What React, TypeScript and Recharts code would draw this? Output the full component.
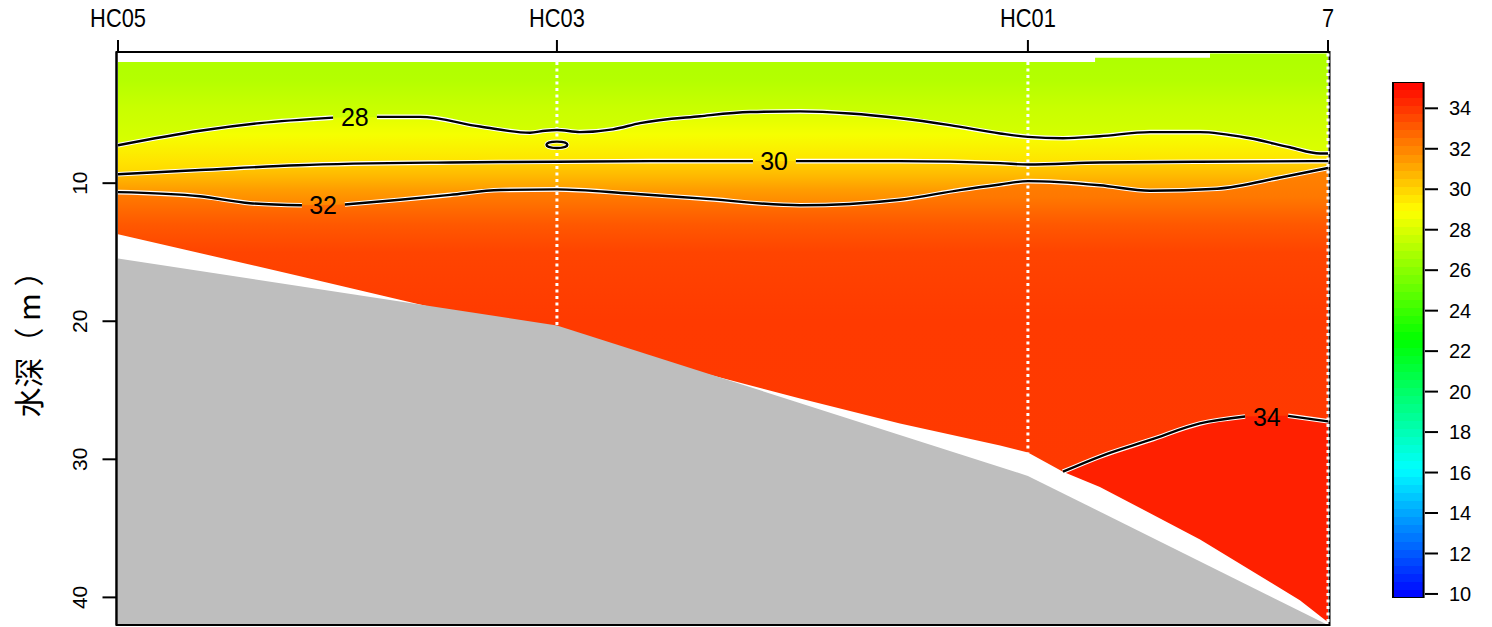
import { Area, Bar, ComposedChart, Line, ReferenceArea, ReferenceLine, Scatter, XAxis, YAxis } from "recharts";

const FONT = '"Liberation Sans", Arial, Helvetica, sans-serif';
const CJK = '"Noto Sans CJK SC", "Noto Sans CJK JP", sans-serif';

// stations along the section (x in km)
const stationNames = ["HC05", "HC03", "HC01", "7"];
const stationKm = [0, 14.51, 30.08, 40];
const stationLineTop = [null, 1.23, 1.23, 0.6];
const stationLineBottom = [null, 20.3, 29.5, 41.9];

const distDomain = [-0.05, 40.05];
const depthTicks = [10, 20, 30, 40];
const depthDomain = [0.5, 42];
const legendTicks = [10, 12, 14, 16, 18, 20, 22, 24, 26, 28, 30, 32, 34];
const legendRange = [9.8, 35.3];

// top of the gridded data (m)
const surface = [
  { x: 0, d: 1.23 },
  { x: 32.3, d: 0.92 },
  { x: 36.1, d: 0.6 },
  { x: 40, d: 0.6 },
];

// isotherm depths (m); null = break for the label
const iso28 = [
  { x: 0, d: 7.25 }, { x: 2.71, d: 6.2 }, { x: 4.69, d: 5.65 }, { x: 7.11, d: 5.25 },
  { x: 7.83, d: null }, { x: 8.56, d: 5.2 }, { x: 9.98, d: 5.2 }, { x: 11.97, d: 5.9 },
  { x: 13.62, d: 6.35 }, { x: 14.12, d: 6.2 }, { x: 14.51, d: 6.15 }, { x: 15.27, d: 6.3 },
  { x: 16.36, d: 6.1 }, { x: 17.26, d: 5.65 }, { x: 19.24, d: 5.15 }, { x: 20.89, d: 4.85 },
  { x: 22.55, d: 4.8 }, { x: 24.2, d: 4.95 }, { x: 25.85, d: 5.3 }, { x: 27.5, d: 5.8 },
  { x: 29.16, d: 6.4 }, { x: 30.08, d: 6.65 }, { x: 31.24, d: 6.75 }, { x: 32.46, d: 6.6 },
  { x: 34.12, d: 6.3 }, { x: 35.77, d: 6.3 }, { x: 37.42, d: 6.75 }, { x: 38.74, d: 7.4 },
  { x: 39.74, d: 7.85 }, { x: 40, d: 7.85 },
];

const iso30 = [
  { x: 0, d: 9.35 }, { x: 2.71, d: 9.05 }, { x: 5.95, d: 8.7 }, { x: 10.98, d: 8.5 },
  { x: 14.51, d: 8.45 }, { x: 17.59, d: 8.4 }, { x: 20.99, d: 8.4 }, { x: 21.69, d: null },
  { x: 22.41, d: 8.4 }, { x: 25.85, d: 8.4 }, { x: 29.16, d: 8.55 }, { x: 30.08, d: 8.65 },
  { x: 32.46, d: 8.5 }, { x: 35.77, d: 8.45 }, { x: 40, d: 8.4 },
];

const iso32 = [
  { x: 0, d: 10.65 }, { x: 2.71, d: 10.95 }, { x: 4.36, d: 11.45 }, { x: 6.08, d: 11.6 },
  { x: 6.78, d: null }, { x: 7.5, d: 11.55 }, { x: 9.32, d: 11.2 }, { x: 10.98, d: 10.85 },
  { x: 12.63, d: 10.5 }, { x: 14.51, d: 10.45 }, { x: 16.93, d: 10.75 }, { x: 19.24, d: 11.1 },
  { x: 22.55, d: 11.6 }, { x: 25.85, d: 11.2 }, { x: 27.83, d: 10.5 }, { x: 29.16, d: 10.1 },
  { x: 30.08, d: 9.85 }, { x: 32.46, d: 10.15 }, { x: 34.12, d: 10.55 }, { x: 36.33, d: 10.4 },
  { x: 38.51, d: 9.55 }, { x: 40, d: 8.9 },
];

const iso34 = [
  { x: 31.24, d: 30.9 }, { x: 32.46, d: 29.8 }, { x: 34.12, d: 28.6 }, { x: 35.77, d: 27.4 },
  { x: 37.26, d: 26.9 }, { x: 37.98, d: null }, { x: 38.68, d: 26.85 }, { x: 40, d: 27.25 },
];

// small closed 28 contour near HC03
const closed28 = [{ x: 14.51, d: 7.22 }];

const contourLabels = [
  { x: 7.83, d: 5.2, label: "28" },
  { x: 21.69, d: 8.4, label: "30" },
  { x: 6.78, d: 11.6, label: "32" },
  { x: 37.98, d: 26.9, label: "34" },
];

// lower edge of the gridded data (m)
const dataBottom = [
  { x: 0, d: 13.7 }, { x: 5.95, d: 16.7 }, { x: 10.58, d: 19.1 }, { x: 14.51, d: 20.5 },
  { x: 19.24, d: 23.7 }, { x: 22.55, d: 25.6 }, { x: 25.85, d: 27.4 }, { x: 29.16, d: 29.0 },
  { x: 30.08, d: 29.5 }, { x: 31.24, d: 30.9 }, { x: 32.46, d: 32.0 }, { x: 35.77, d: 35.8 },
  { x: 39.07, d: 40.2 }, { x: 40, d: 41.8 },
];

// sea bottom (m)
const bathy = [
  { x: 0, d: 15.45 },
  { x: 14.51, d: 20.3 },
  { x: 30.08, d: 31.2 },
  { x: 40, d: 42 },
];

const legendBar = [{ name: "t", range: legendRange }];

const palette: [number, number[]][] = [
  [9.8, [0, 0, 255]],
  [16.175, [0, 255, 255]],
  [22.55, [0, 255, 0]],
  [28.925, [255, 255, 0]],
  [35.3, [255, 0, 0]],
];

function tempColor(t: number) {
  let i = 0;
  while (i < palette.length - 2 && t > palette[i + 1][0]) i++;
  const [t0, c0] = palette[i];
  const [t1, c1] = palette[i + 1];
  const f = Math.max(0, Math.min(1, (t - t0) / (t1 - t0)));
  const c = c0.map((v, k) => Math.round(v + (c1[k] - v) * f));
  return `rgb(${c[0]},${c[1]},${c[2]})`;
}

const BOTTOM = depthDomain[1];

function depthGradient(id: string, tops: { d: number | null }[], stops: number[][]) {
  const top = Math.min(...tops.filter((p) => p.d != null).map((p) => p.d as number));
  const span = BOTTOM - top;
  return (
    <linearGradient id={id} x1="0" y1="0" x2="0" y2="1">
      {stops.map(([d, t]) => (
        <stop key={d} offset={Math.max(0, Math.min(1, (d - top) / span))} stopColor={tempColor(t)} />
      ))}
    </linearGradient>
  );
}

const solid = (arr: { x: number; d: number | null }[]) => arr.filter((p) => p.d != null);
const toBottom = (p: any) => [p.d, BOTTOM];

function TopTick({ x, payload }: any) {
  const name = stationNames[stationKm.indexOf(payload.value)];
  return (
    <g transform={`translate(${x},27) scale(0.84,1)`}>
      <text textAnchor="middle" fontSize={26} fontFamily={FONT} fill="#000">{name}</text>
    </g>
  );
}

function LeftTick({ y, payload }: any) {
  return (
    <text x={79.5} y={y} transform={`rotate(-90, 79.5, ${y})`} textAnchor="middle" dominantBaseline="central" fontSize={21} fontFamily={FONT} fill="#000">
      {payload.value}
    </text>
  );
}

function YTitle() {
  return (
    <text x={27} y={337} transform="rotate(-90, 27, 337)" textAnchor="middle" dominantBaseline="central" fontSize={30} fontFamily={CJK} fill="#000">
      水深（ m ）
    </text>
  );
}

function ContourText(p: any) {
  return (
    <text x={p.cx} y={p.cy} textAnchor="middle" dominantBaseline="central" fontSize={25} fontFamily={FONT} fill="#000">
      {p.payload.label}
    </text>
  );
}

function Ring(p: any) {
  return (
    <g>
      <ellipse cx={p.cx} cy={p.cy} rx={10.5} ry={3.2} fill="none" stroke="#fff" strokeWidth={4} />
      <ellipse cx={p.cx} cy={p.cy} rx={10.5} ry={3.2} fill="none" stroke="#000" strokeWidth={2.3} />
    </g>
  );
}

const contours = [iso28, iso30, iso32, iso34];
const legendSteps = 64;

export default function App() {
  return (
    <div style={{ position: "relative", width: 1492, height: 627, fontFamily: FONT }}>
      <style>{"body{margin:0;overflow:hidden;background:#fff}"}</style>
      <div style={{ position: "absolute", left: 0, top: 0 }}>
        <ComposedChart width={1360} height={627} margin={{ top: 0, right: 30.5, bottom: 2, left: 0 }}>
          <defs>
            {depthGradient("gSurf", surface, [[0.6, 26.9], [2.5, 27.05], [4.5, 27.55], [7.5, 28.0]])}
            {depthGradient("g28", iso28, [[4.8, 28.05], [6.5, 28.7], [8.4, 29.6], [9.4, 29.95]])}
            {depthGradient("g30", iso30, [[8.4, 30.05], [9.5, 30.7], [10.5, 31.4], [11.6, 31.95]])}
            {depthGradient("g32", iso32, [[8.9, 32.0], [11, 32.3], [13, 33.1], [15, 33.6], [20, 33.85], [42, 33.9]])}
          </defs>
          <XAxis
            orientation="top"
            type="number"
            dataKey="x"
            domain={distDomain}
            ticks={stationKm}
            allowDataOverflow
            height={52}
            tickSize={12}
            axisLine={{ stroke: "#000", strokeWidth: 2 }}
            tickLine={{ stroke: "#000", strokeWidth: 2 }}
            tick={<TopTick />}
            interval={0}
          />
          <YAxis
            type="number"
            dataKey="d"
            domain={depthDomain}
            reversed
            allowDataOverflow
            ticks={depthTicks}
            width={116.5}
            tickSize={14}
            axisLine={{ stroke: "#000", strokeWidth: 2 }}
            tickLine={{ stroke: "#000", strokeWidth: 2 }}
            tick={<LeftTick />}
            label={{ value: "水深（m）", content: <YTitle /> }}
            interval={0}
          />
          <Area data={surface} dataKey={toBottom} type="stepAfter" fill="url(#gSurf)" fillOpacity={1} stroke="none" isAnimationActive={false} />
          <Area data={solid(iso28)} dataKey={toBottom} type="monotone" fill="url(#g28)" fillOpacity={1} stroke="none" isAnimationActive={false} />
          <Area data={solid(iso30)} dataKey={toBottom} type="monotone" fill="url(#g30)" fillOpacity={1} stroke="none" isAnimationActive={false} />
          <Area data={solid(iso32)} dataKey={toBottom} type="monotone" fill="url(#g32)" fillOpacity={1} stroke="none" isAnimationActive={false} />
          <Area data={solid(iso34)} dataKey={toBottom} type="monotone" fill={tempColor(34.5)} fillOpacity={1} stroke="none" isAnimationActive={false} />
          <Area data={dataBottom} dataKey={toBottom} type="linear" fill="#fff" fillOpacity={1} stroke="none" isAnimationActive={false} />
          <Area data={bathy} dataKey={toBottom} type="linear" fill="#bebebe" fillOpacity={1} stroke="none" isAnimationActive={false} />
          {stationKm.map((x, i) =>
            stationLineBottom[i] == null ? null : (
              <ReferenceLine
                key={stationNames[i]}
                segment={[{ x, y: stationLineTop[i] as number }, { x, y: stationLineBottom[i] as number }]}
                stroke="#fff"
                strokeWidth={3}
                strokeDasharray="3 3.5"
                ifOverflow="visible"
              />
            )
          )}
          {contours.map((c, i) => (
            <Line key={`h${i}`} data={c} dataKey="d" type="monotone" stroke="#fff" strokeWidth={4.6} dot={false} activeDot={false} isAnimationActive={false} />
          ))}
          {contours.map((c, i) => (
            <Line key={`l${i}`} data={c} dataKey="d" type="monotone" stroke="#000" strokeWidth={2.4} dot={false} activeDot={false} isAnimationActive={false} />
          ))}
          <Scatter data={closed28} dataKey="d" shape={<Ring />} isAnimationActive={false} />
          <Scatter data={contourLabels} dataKey="d" shape={<ContourText />} isAnimationActive={false} />
          <ReferenceArea x1={distDomain[0]} x2={distDomain[1]} y1={depthDomain[0]} y2={depthDomain[1]} fill="none" stroke="#000" strokeWidth={2} ifOverflow="visible" />
        </ComposedChart>
      </div>
      <div style={{ position: "absolute", left: 1391, top: 0 }}>
        <ComposedChart width={94} height={627} data={legendBar} margin={{ top: 82, right: 0, bottom: 29, left: 0 }} barCategoryGap={0}>
          <defs>
            <linearGradient id="rainbow" x1="0" y1="0" x2="0" y2="1">
              {Array.from({ length: legendSteps }).flatMap((_, i) => {
                const t = legendRange[1] - ((i + 0.5) * (legendRange[1] - legendRange[0])) / legendSteps;
                const c = tempColor(t);
                return [
                  <stop key={`a${i}`} offset={i / legendSteps} stopColor={c} />,
                  <stop key={`b${i}`} offset={(i + 1) / legendSteps} stopColor={c} />,
                ];
              })}
            </linearGradient>
          </defs>
          <XAxis dataKey="name" hide />
          <YAxis
            orientation="right"
            type="number"
            domain={legendRange}
            ticks={legendTicks}
            allowDataOverflow
            interval={0}
            width={60}
            tickSize={13}
            tickMargin={11}
            axisLine={false}
            tickLine={{ stroke: "#000", strokeWidth: 2 }}
            tick={{ fontSize: 20, fill: "#000", fontFamily: FONT }}
          />
          <Bar dataKey="range" barSize={34} fill="url(#rainbow)" stroke="#000" strokeWidth={2} isAnimationActive={false} />
        </ComposedChart>
      </div>
    </div>
  );
}
